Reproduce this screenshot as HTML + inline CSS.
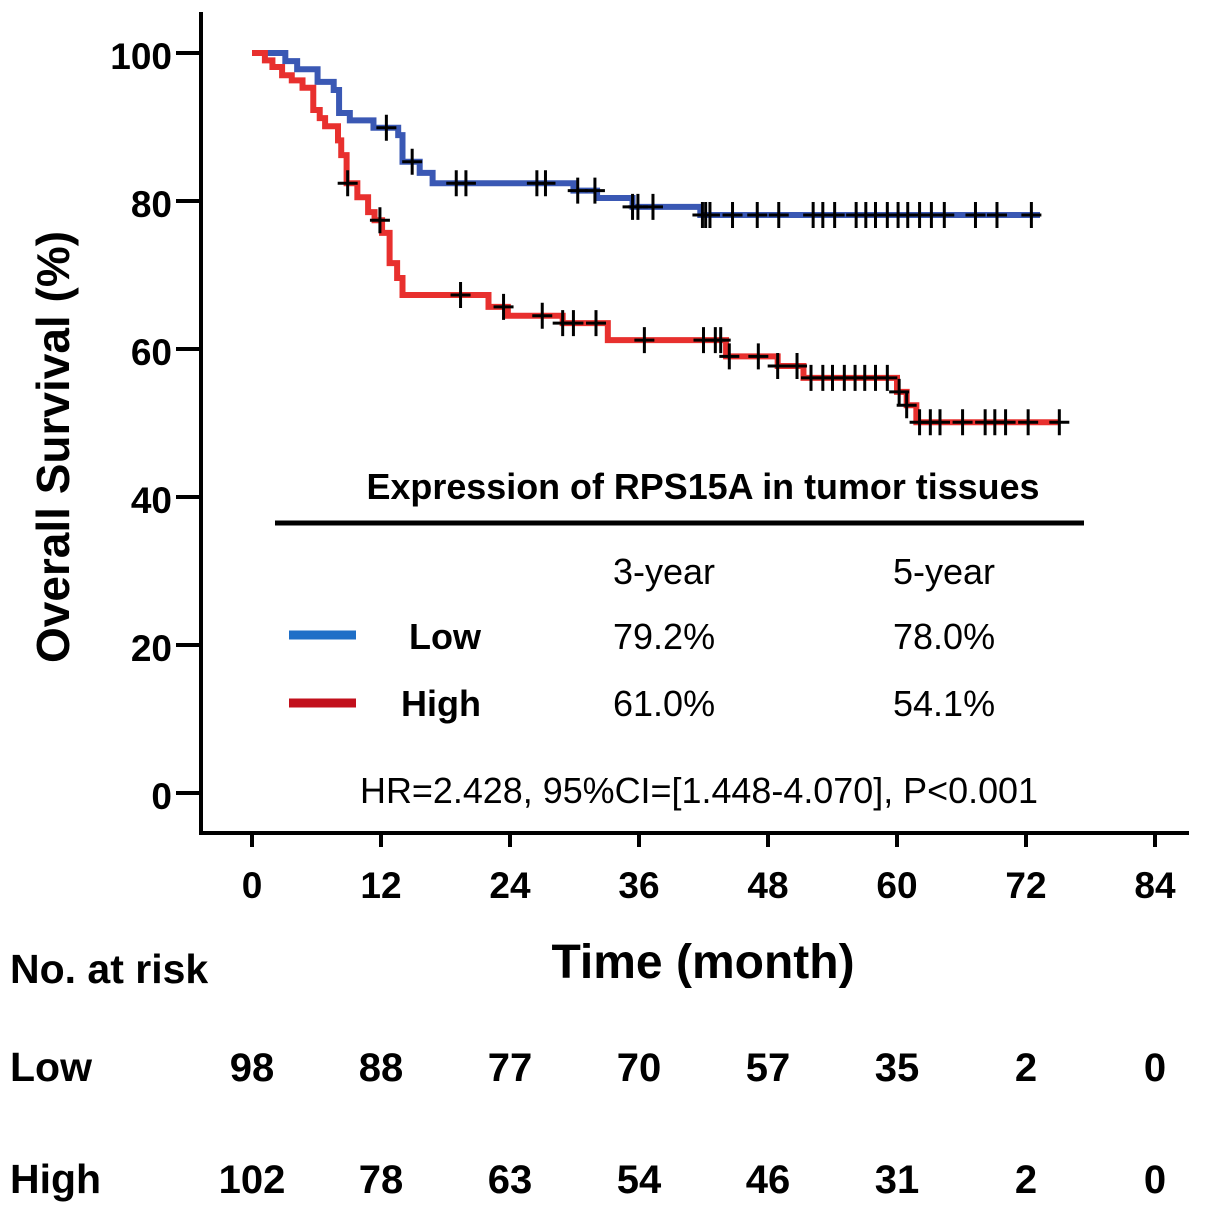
<!DOCTYPE html>
<html><head><meta charset="utf-8"><style>
html,body{margin:0;padding:0;background:#fff;}
svg{display:block;font-family:"Liberation Sans",Arial,sans-serif;}
</style></head><body>
<svg id="chart" width="1205" height="1214" viewBox="0 0 1205 1214">
<g id="axes"></g>
<g id="curves"></g>
<g>
<text x="703" y="499" text-anchor="middle" font-size="36" font-weight="bold" textLength="673" lengthAdjust="spacingAndGlyphs">Expression of RPS15A in tumor tissues</text>
<line x1="275" y1="523" x2="1084" y2="523" stroke="#000" stroke-width="5"/>
<text x="613" y="584" font-size="36">3-year</text>
<text x="893" y="584" font-size="36">5-year</text>
<line x1="289" y1="635" x2="356" y2="635" stroke="#1f6fc7" stroke-width="9"/>
<text x="409" y="649" font-size="36" font-weight="bold">Low</text>
<text x="613" y="649" font-size="36">79.2%</text>
<text x="893" y="649" font-size="36">78.0%</text>
<line x1="289" y1="703" x2="356" y2="703" stroke="#c2101c" stroke-width="9"/>
<text x="401" y="716" font-size="36" font-weight="bold">High</text>
<text x="613" y="716" font-size="36">61.0%</text>
<text x="893" y="716" font-size="36">54.1%</text>
<text x="360" y="803" font-size="36" textLength="678" lengthAdjust="spacingAndGlyphs">HR=2.428, 95%CI=[1.448-4.070], P&lt;0.001</text>
</g>
<text x="703" y="978" text-anchor="middle" font-size="48" font-weight="bold">Time (month)</text>
<text transform="translate(69,447) rotate(-90)" text-anchor="middle" font-size="46" font-weight="bold">Overall Survival (%)</text>
<g id="risk">
<text x="10" y="983" font-size="41" font-weight="bold">No. at risk</text>
<text x="10" y="1081" font-size="41" font-weight="bold">Low</text>
<text x="10" y="1193" font-size="41" font-weight="bold">High</text>
</g>
</svg>
<script>
const xTicks=[0,12,24,36,48,60,72,84];
const yTicks=[0,20,40,60,80,100];
const lowT=[0,3.1,4.2,6.1,7.6,8.1,9.1,11.3,13.6,14.0,15.6,16.8,29.9,32.1,35.4,41.7,73.3];
const lowS=[100,98.9,97.8,96.1,95.0,91.9,90.9,89.9,88.9,85.3,83.8,82.4,81.4,80.4,79.2,78.1,78.1];
const lowCens=[12.5,14.9,19.0,19.9,26.5,27.3,30.3,31.9,35.4,35.9,37.3,41.9,42.2,42.6,44.7,47.0,49.0,52.2,53.1,54.2,56.2,57.1,58.0,59.1,60.1,61.0,62.1,63.2,64.4,67.3,69.3,72.5];
const highT=[0,1.2,1.9,2.8,3.7,4.7,5.7,6.3,6.8,8.0,8.3,8.8,9.8,10.8,11.4,12.1,12.8,13.5,14.0,22.0,23.8,28.9,33.1,44.1,48.9,51.3,60.0,60.9,61.8,75.1];
const highS=[100,99.0,98.1,97.0,96.3,95.3,92.3,91.2,90.1,88.2,86.2,82.4,80.5,78.5,77.4,75.7,71.6,69.6,67.3,65.7,64.5,63.5,61.2,59.0,57.7,56.1,54.2,52.4,50.1,50.1];
const highCens=[8.9,11.9,19.4,23.4,27.0,28.9,29.9,32.0,36.5,42.0,43.1,43.6,44.4,47.1,48.9,50.7,52.0,53.1,54.0,55.1,56.1,57.0,58.0,59.1,60.2,60.9,62.1,63.1,64.0,66.1,68.2,69.1,70.1,72.2,75.1];
const riskLow=[98,88,77,70,57,35,2,0];
const riskHigh=[102,78,63,54,46,31,2,0];
const NS='http://www.w3.org/2000/svg';
const X=t=>252+t*(1155-252)/84;
const Y=s=>793-s*7.4;
function mk(tag,attrs,parent,txt){const e=document.createElementNS(NS,tag);for(const k in attrs)e.setAttribute(k,attrs[k]);if(txt!==undefined)e.textContent=txt;parent.appendChild(e);return e;}
const ax=document.getElementById('axes');
let e=mk('line',{x1:201,y1:12,x2:201,y2:835,stroke:'#000','stroke-width':4},ax);


e=mk('line',{x1:199,y1:833,x2:1189,y2:833,stroke:'#000','stroke-width':4},ax);


xTicks.forEach(t=>{
 const l=mk('line',{x1:X(t),y1:833,x2:X(t),y2:847,stroke:'#000','stroke-width':4},ax);
 
 
 const tx=mk('text',{x:X(t),y:898,'text-anchor':'middle','font-size':37,'font-weight':'bold'},ax,t);
 
 
});
yTicks.forEach(s=>{
 const l=mk('line',{x1:176,y1:Y(s),x2:201,y2:Y(s),stroke:'#000','stroke-width':4},ax);
 
 
 const tx=mk('text',{x:172,y:Y(s)+16,'text-anchor':'end','font-size':37,'font-weight':'bold'},ax,s);
 
 
});
const cv=document.getElementById('curves');
function stepAt(T,S,t){let v=S[0];for(let i=0;i<T.length;i++){if(T[i]<=t)v=S[i];}return v;}
function drawCurve(T,S,C,color,name){
 let d='M'+X(T[0])+','+Y(S[0]);
 for(let i=1;i<T.length;i++){d+=' H'+X(T[i])+' V'+Y(S[i]);}
 const p=mk('path',{d:d,fill:'none',stroke:color,'stroke-width':6},cv);
 
 
 C.forEach(t=>{
  const x=X(t),y=Y(stepAt(T,S,t));
  const g=mk('path',{d:`M${x-10},${y} H${x+10} M${x},${y-13} V${y+13}`,stroke:'#000','stroke-width':3,fill:'none'},cv);
  
  
 });
}
drawCurve(lowT,lowS,lowCens,'#3a58b4','low');
drawCurve(highT,highS,highCens,'#e8302e','high');
const rk=document.getElementById('risk');
xTicks.forEach((t,i)=>{
 const a=mk('text',{x:X(t),y:1081,'text-anchor':'middle','font-size':40,'font-weight':'bold'},rk,riskLow[i]);
 
 
 const b=mk('text',{x:X(t),y:1193,'text-anchor':'middle','font-size':40,'font-weight':'bold'},rk,riskHigh[i]);
 
 
});
</script>
</body></html>
